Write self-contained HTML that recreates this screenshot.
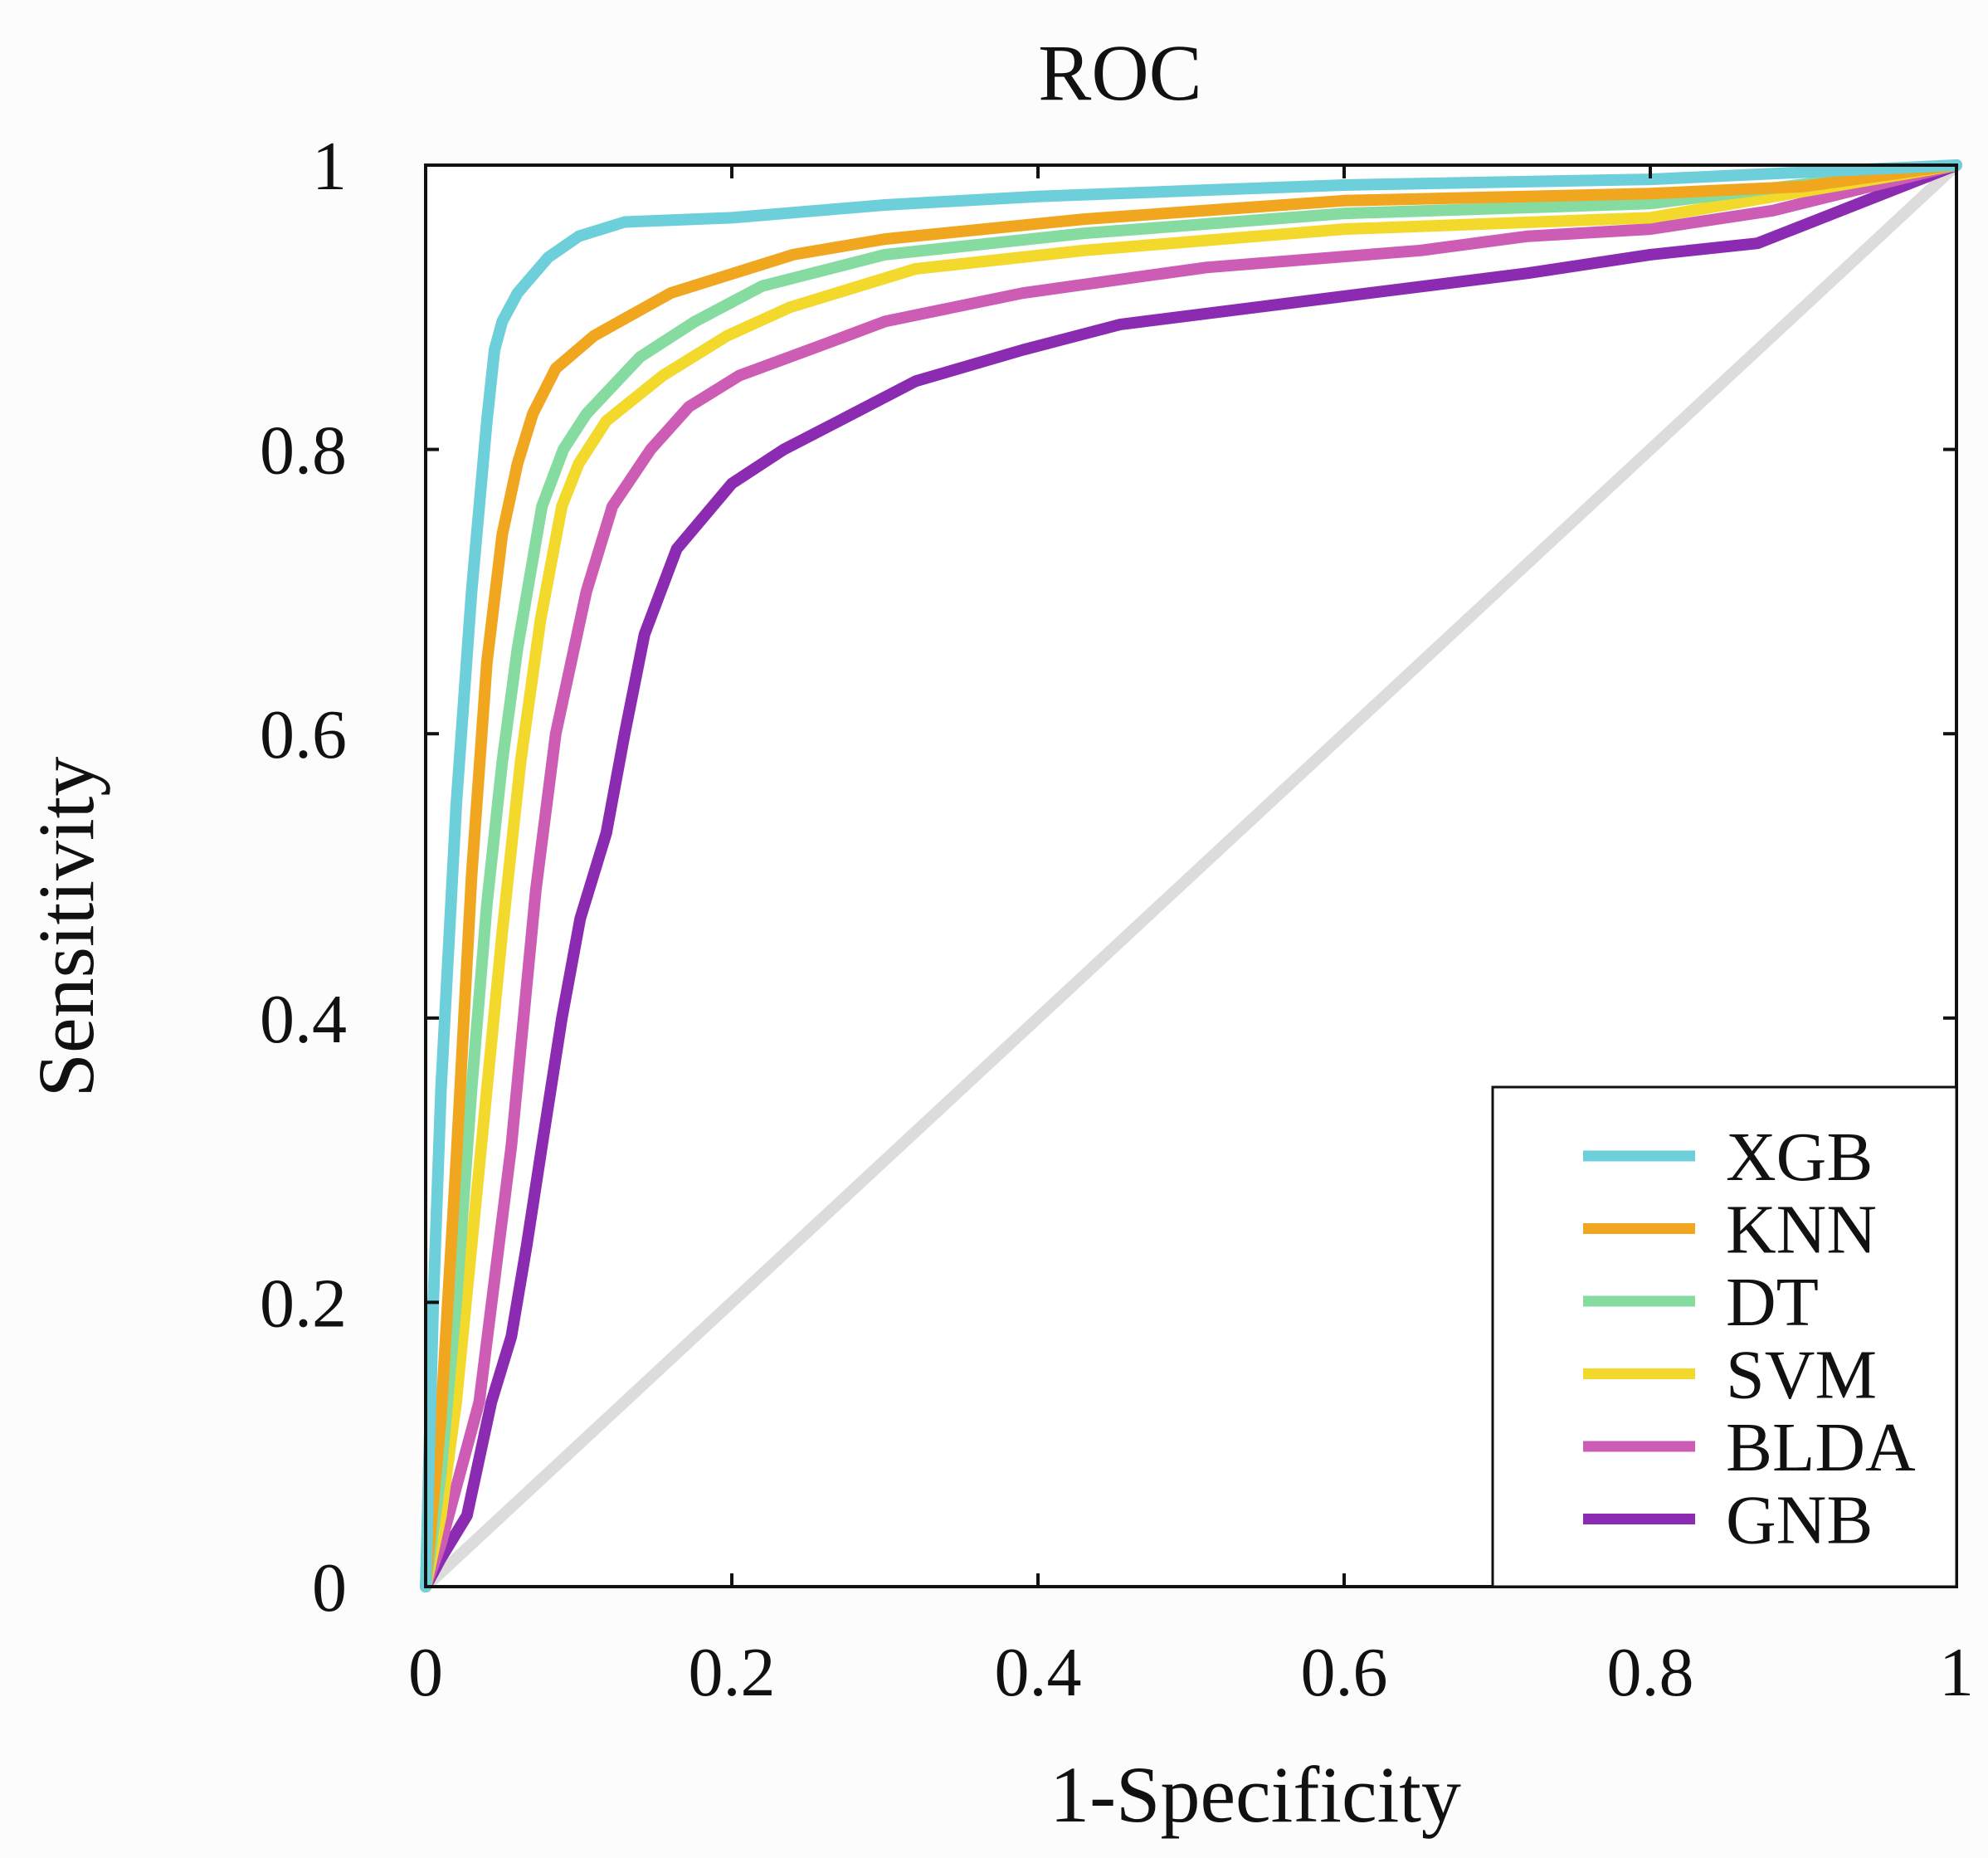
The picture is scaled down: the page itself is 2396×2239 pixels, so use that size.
<!DOCTYPE html>
<html><head><meta charset="utf-8"><style>
html,body{margin:0;padding:0;background:#fcfcfc;}
svg{display:block;font-family:"Liberation Serif",serif;}
</style></head><body>
<svg id="chart" width="2396" height="2239" viewBox="0 0 2396 2239">
<rect x="513" y="199" width="1845" height="1713" fill="#ffffff"/>
<g id="marks"></g>
<g id="axes"></g>
<text x="1350" y="120" font-size="96" text-anchor="middle" fill="#111">ROC</text>
<text x="1513" y="2195" font-size="96" text-anchor="middle" fill="#111">1-Specificity</text>
<text x="0" y="0" font-size="96" text-anchor="middle" fill="#111" transform="translate(112,1117) rotate(-90)">Sensitivity</text>
<g id="legend"></g>
</svg>
<script>
const xTicks=[0,0.2,0.4,0.6,0.8,1];
const xTickLabels=["0","0.2","0.4","0.6","0.8","1"];
const yTicks=[0,0.2,0.4,0.6,0.8,1];
const yTickLabels=["0","0.2","0.4","0.6","0.8","1"];
const seriesNames=["XGB","KNN","DT","SVM","BLDA","GNB"];
const seriesColors=["#6ccfd9","#f0a61e","#86dba0","#f2d92c","#cc5cb4","#8b2bb2"];
const xgbX=[0,0.005,0.01,0.02,0.03,0.04,0.045,0.05,0.06,0.08,0.1,0.13,0.2,0.3,0.4,0.5,0.6,0.8,1];
const xgbY=[0,0.2,0.35,0.55,0.7,0.82,0.87,0.89,0.91,0.935,0.95,0.96,0.963,0.972,0.978,0.982,0.986,0.99,1];
const knnX=[0,0.01,0.02,0.03,0.04,0.05,0.06,0.07,0.085,0.11,0.16,0.24,0.3,0.43,0.6,0.8,0.9,1];
const knnY=[0,0.12,0.3,0.5,0.65,0.74,0.79,0.825,0.857,0.88,0.91,0.937,0.948,0.962,0.975,0.98,0.985,1];
const dtX=[0,0.01,0.02,0.03,0.04,0.05,0.06,0.076,0.09,0.105,0.14,0.176,0.22,0.3,0.43,0.6,0.8,1];
const dtY=[0,0.08,0.2,0.35,0.48,0.58,0.66,0.76,0.8,0.825,0.865,0.89,0.915,0.937,0.952,0.966,0.973,1];
const svmX=[0,0.01,0.02,0.03,0.04,0.05,0.062,0.075,0.089,0.1,0.118,0.155,0.197,0.238,0.32,0.43,0.6,0.8,1];
const svmY=[0,0.05,0.13,0.24,0.35,0.46,0.58,0.68,0.76,0.79,0.82,0.852,0.88,0.9,0.927,0.94,0.955,0.963,1];
const bldaX=[0,0.01,0.02,0.035,0.056,0.072,0.085,0.105,0.122,0.147,0.172,0.205,0.263,0.3,0.39,0.51,0.65,0.72,0.8,0.88,1];
const bldaY=[0,0.03,0.07,0.13,0.31,0.49,0.6,0.7,0.76,0.8,0.83,0.852,0.875,0.89,0.91,0.928,0.94,0.95,0.955,0.968,1];
const gnbX=[0,0.01,0.027,0.043,0.056,0.066,0.076,0.089,0.101,0.118,0.13,0.143,0.164,0.2,0.234,0.27,0.32,0.39,0.454,0.587,0.72,0.8,0.87,1];
const gnbY=[0,0.02,0.05,0.13,0.176,0.24,0.31,0.4,0.47,0.53,0.6,0.67,0.73,0.776,0.8,0.82,0.848,0.87,0.888,0.906,0.924,0.937,0.945,1];
const diagX=[0,1];
const diagY=[0,1];

const X0=513,X1=2358,Y0=1912,Y1=199;
function sx(v){return X0+v*(X1-X0);}
function sy(v){return Y0-v*(Y0-Y1);}
const NS="http://www.w3.org/2000/svg";
const marks=document.getElementById('marks');
const axes=document.getElementById('axes');
const legend=document.getElementById('legend');

function pathD(xs,ys){return xs.map((x,i)=>(i?'L':'M')+sx(x).toFixed(1)+','+sy(ys[i]).toFixed(1)).join(' ');}

const diag=document.createElementNS(NS,'path');
diag.setAttribute('d',pathD(diagX,diagY));
diag.setAttribute('stroke','#dcdcdc');diag.setAttribute('stroke-width','14');diag.setAttribute('fill','none');


marks.appendChild(diag);

const allX=[xgbX,knnX,dtX,svmX,bldaX,gnbX];
const allY=[xgbY,knnY,dtY,svmY,bldaY,gnbY];
for(let s=allX.length-1;s>=0;s--){
  const p=document.createElementNS(NS,'path');
  p.setAttribute('d',pathD(allX[s],allY[s]));
  p.setAttribute('stroke',seriesColors[s]);p.setAttribute('stroke-width','14');
  p.setAttribute('fill','none');p.setAttribute('stroke-linejoin','round');p.setAttribute('stroke-linecap','round');
  
  
  marks.appendChild(p);
}

const frame=document.createElementNS(NS,'rect');
frame.setAttribute('x',X0);frame.setAttribute('y',Y1);frame.setAttribute('width',X1-X0);frame.setAttribute('height',Y0-Y1);
frame.setAttribute('fill','none');frame.setAttribute('stroke','#111');frame.setAttribute('stroke-width','4');


axes.appendChild(frame);

xTicks.forEach((t,i)=>{
  const x=sx(t);
  [[Y0,Y0-16],[Y1,Y1+16]].forEach(([a,b])=>{
    const l=document.createElementNS(NS,'line');
    l.setAttribute('x1',x);l.setAttribute('x2',x);l.setAttribute('y1',a);l.setAttribute('y2',b);
    l.setAttribute('stroke','#111');l.setAttribute('stroke-width','4');
    
    
    axes.appendChild(l);
  });
  const tx=document.createElementNS(NS,'text');
  tx.setAttribute('x',x);tx.setAttribute('y',2043);tx.setAttribute('font-size','84');tx.setAttribute('text-anchor','middle');tx.setAttribute('fill','#111');
  tx.textContent=xTickLabels[i];
  
  
  axes.appendChild(tx);
});
yTicks.forEach((t,i)=>{
  const y=sy(t);
  [[X0,X0+16],[X1,X1-16]].forEach(([a,b])=>{
    const l=document.createElementNS(NS,'line');
    l.setAttribute('y1',y);l.setAttribute('y2',y);l.setAttribute('x1',a);l.setAttribute('x2',b);
    l.setAttribute('stroke','#111');l.setAttribute('stroke-width','4');
    
    
    axes.appendChild(l);
  });
  const tx=document.createElementNS(NS,'text');
  tx.setAttribute('x',418);tx.setAttribute('y',y+29);tx.setAttribute('font-size','84');tx.setAttribute('text-anchor','end');tx.setAttribute('fill','#111');
  tx.textContent=yTickLabels[i];
  
  
  axes.appendChild(tx);
});

const box=document.createElementNS(NS,'rect');
box.setAttribute('x',1799);box.setAttribute('y',1310);box.setAttribute('width',X1-1799);box.setAttribute('height',Y0-1310);
box.setAttribute('fill','#ffffff');box.setAttribute('stroke','#111');box.setAttribute('stroke-width','3');


legend.appendChild(box);
seriesNames.forEach((n,i)=>{
  const y=1393+i*87.5;
  const l=document.createElementNS(NS,'line');
  l.setAttribute('x1',1908);l.setAttribute('x2',2043);l.setAttribute('y1',y);l.setAttribute('y2',y);
  l.setAttribute('stroke',seriesColors[i]);l.setAttribute('stroke-width','13');
  
  
  legend.appendChild(l);
  const t=document.createElementNS(NS,'text');
  t.setAttribute('x',2080);t.setAttribute('y',y+29);t.setAttribute('font-size','84');t.setAttribute('fill','#111');
  t.textContent=n;
  
  
  legend.appendChild(t);
});
</script>
</body></html>
